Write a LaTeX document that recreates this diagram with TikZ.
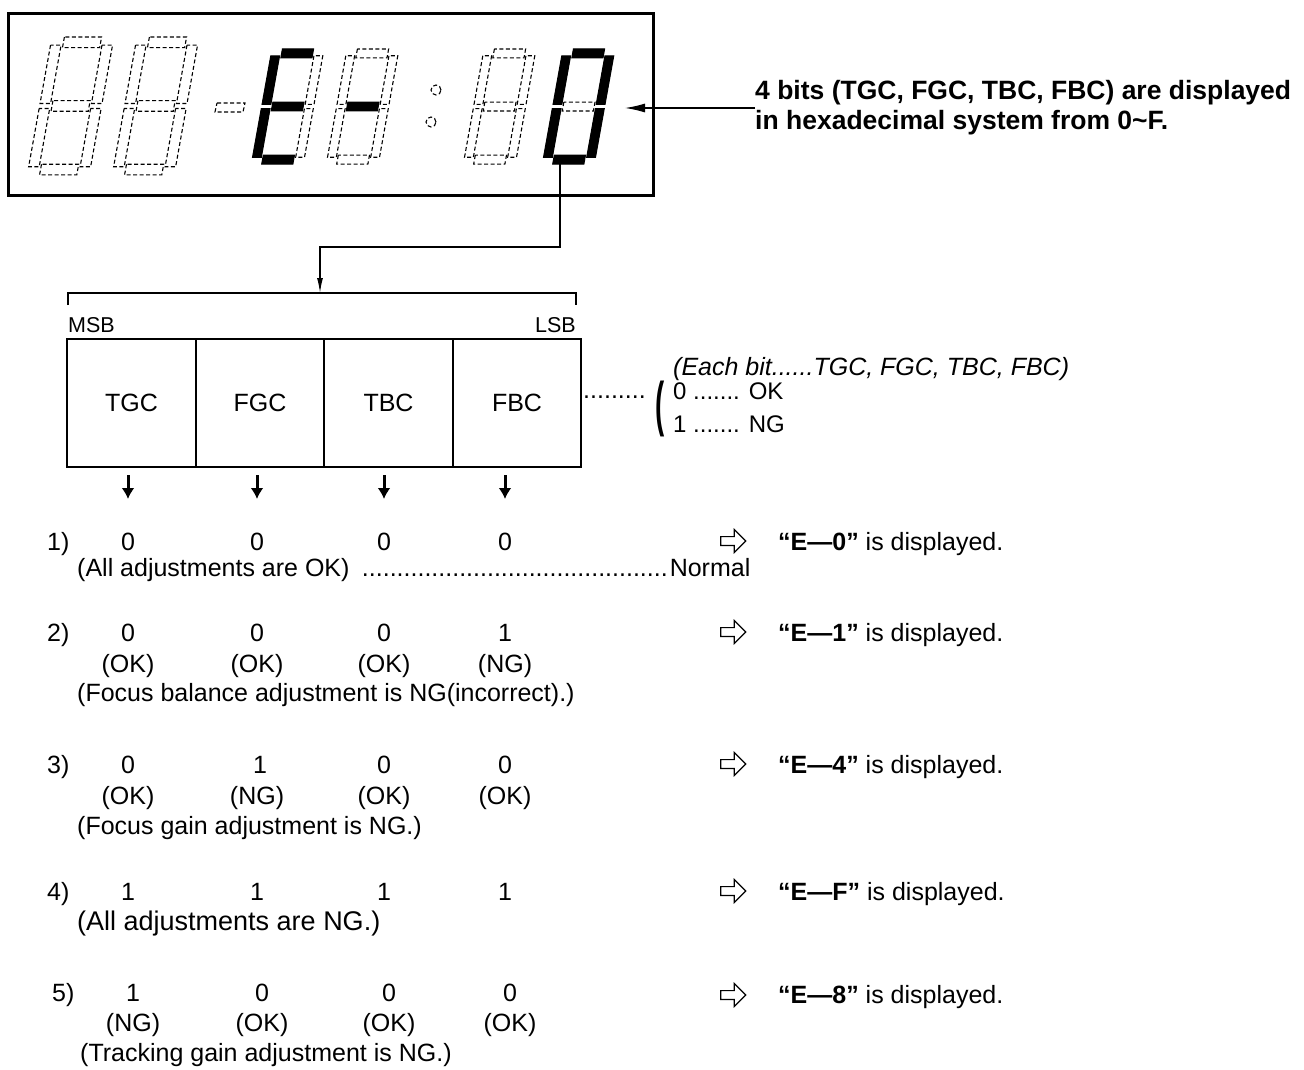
\documentclass[tikz,border=0pt]{standalone}
\usepackage{fontspec}
\setmainfont{Liberation Sans}
\usepackage{graphicx}
\usetikzlibrary{arrows.meta,positioning,shapes.arrows}

\tikzset{
 pics/segdigit/.style={code={
  \foreach \s/\xa/\ya/\xb/\yb in {a/2/0/8/1.7, g/2/10.15/8/11.85, d/2/20.3/8/22,
    f/0/1.3/1.7/10.6, b/8.3/1.3/10/10.6, e/0/11.4/1.7/20.7, c/8.3/11.4/10/20.7}
   \path[seg \s] (\xa,\ya) rectangle (\xb,\yb);
 }}
}

\begin{document}
\begin{tikzpicture}[x=1pt,y=-1pt,>=Latex,font=\fontsize{25}{30}\selectfont,
 unlit/.style={draw,dashed,dash pattern=on 4pt off 2.5pt,line width=1.1pt},
 lit/.style={draw,fill=black,line width=1pt},
 seg a/.style=unlit, seg b/.style=unlit, seg c/.style=unlit, seg d/.style=unlit,
 seg e/.style=unlit, seg f/.style=unlit, seg g/.style=unlit,
 on/.style={seg #1/.style=lit},
 bigdigit/.style={x=6.2pt,y=-6.27pt,xslant=.18},
 smalldigit/.style={x=5.2pt,y=-5.23pt,xslant=.18},
 ln/.style={line width=1.3pt},
 arr/.style={-{Latex[length=15pt,width=6pt]},line width=1.3pt},
 harr/.style={-{Latex[length=20pt,width=9pt]},line width=1.3pt},
 darr/.style={-{Latex[length=11pt,width=13pt]},line width=3pt},
 warr/.style={single arrow,draw,line width=1.2pt,minimum height=25,inner sep=3.8pt,
  single arrow head extend=7pt,single arrow head indent=0pt},
 cell/.style={draw,line width=1.6pt,minimum width=128.5,minimum height=128,inner sep=0pt,outer sep=0pt},
 txt/.style={inner sep=0pt}]
\fill[white] (0,0) rectangle (1304,1070);
\useasboundingbox (0,0) rectangle (1304,1070);

% display
\node[draw,line width=3pt,minimum width=645,minimum height=181,inner sep=0pt] (disp) at (330.5,104.5) {};
\coordinate (d1) at (52,37);
\coordinate (d2) at (137,37);
\coordinate (d3) at (272,49);
\coordinate (d4) at (347,49);
\coordinate (d5) at (484,49);
\coordinate (d6) at (563,49);
\pic[bigdigit] at (d1) {segdigit};
\pic[bigdigit] at (d2) {segdigit};
\draw[unlit] (217,103) -- (245,103) -- (243,112) -- (215,112) -- cycle;
\pic[smalldigit,on/.list={a,d,e,f,g}] at (d3) {segdigit};
\pic[smalldigit,on=g] at (d4) {segdigit};
\node[unlit,circle,minimum size=10,inner sep=0pt] (cola) at (436,90) {};
\node[unlit,circle,minimum size=10,inner sep=0pt] (colb) at (431,122) {};
\pic[smalldigit] at (d5) {segdigit};
\pic[smalldigit,on/.list={a,b,c,d,e,f}] at (d6) {segdigit};

\node[txt,anchor=west,align=left,font=\bfseries\fontsize{26.5}{30}\selectfont] (head) at (755,108)
 {4 bits (TGC, FGC, TBC, FBC) are displayed\\in hexadecimal system from 0\textasciitilde F.};
\coordinate (tip) at (625,108);
\draw[harr] (head.west) -- (tip);

% register
\coordinate (lsd) at (560,160);
\coordinate (bl) at (68,293);
\coordinate (br) at (576,293);
\coordinate (bt) at (320,293);
\draw[ln] (bl) ++(0,12) -- (bl) -- (br) -- ++(0,12);
\draw[arr] (lsd) |- ([yshift=46pt]bt) -- (bt);
\node[txt,anchor=base west,font=\fontsize{21.5}{25}\selectfont] (msb) at (68,332) {MSB};
\node[txt,anchor=base east,font=\fontsize{21.5}{25}\selectfont] (lsb) at (576,332) {LSB};
\node[cell] (tgc) at (131.5,403) {TGC};
\node[cell,right=0pt of tgc] (fgc) {FGC};
\node[cell,right=0pt of fgc] (tbc) {TBC};
\node[cell,right=0pt of tbc] (fbc) {FBC};
\draw[darr] (tgc.south) ++(-3.5,8) -- ++(0,24);
\draw[darr] (fgc.south) ++(-3,8) -- ++(0,24);
\draw[darr] (tbc.south) ++(-4.5,8) -- ++(0,24);
\draw[darr] (fbc.south) ++(-12,8) -- ++(0,24);

\node[txt,anchor=base west] (lead) at (583,398) {\makebox[68pt][l]{\leaders\hbox{.}\hfill}};
\node[txt,font=\bfseries\fontsize{25}{30}\selectfont] (par) at (660,409) {\scalebox{1.1}[2.4]{(}};
\node[txt,anchor=base west,font=\itshape\fontsize{25}{30}\selectfont] (each) at (673,375) {(Each bit......TGC, FGC, TBC, FBC)};
\node[txt,anchor=base west,font=\fontsize{24}{28}\selectfont] (ok) at (673,399) {0 ....... OK};
\node[txt,anchor=base west,font=\fontsize{24}{28}\selectfont] (ng) at (673,432) {1 ....... NG};

% 1)
\node[txt,anchor=base west] (n1) at (47,550) {1)};
\node[txt,anchor=base] (a1) at (128,550) {0};
\node[txt,anchor=base] (a2) at (257,550) {0};
\node[txt,anchor=base] (a3) at (384,550) {0};
\node[txt,anchor=base] (a4) at (505,550) {0};
\node[warr] (ra) at (731,541) {};
\node[txt,anchor=base west] (ea) at (778,550) {\textbf{“E—0”} is displayed.};
\node[txt,anchor=base west] (xa) at (77,576) {\makebox[673pt][l]{(All adjustments are OK) \leaders\hbox{.}\hfill Normal}};

% 2)
\node[txt,anchor=base west] (n2) at (47,641) {2)};
\node[txt,anchor=base] (b1) at (128,641) {0};
\node[txt,anchor=base] (b2) at (257,641) {0};
\node[txt,anchor=base] (b3) at (384,641) {0};
\node[txt,anchor=base] (b4) at (505,641) {1};
\node[txt,anchor=base] (ob1) at (128,672) {(OK)};
\node[txt,anchor=base] (ob2) at (257,672) {(OK)};
\node[txt,anchor=base] (ob3) at (384,672) {(OK)};
\node[txt,anchor=base] (ob4) at (505,672) {(NG)};
\node[warr] (rb) at (731,632) {};
\node[txt,anchor=base west] (eb) at (778,641) {\textbf{“E—1”} is displayed.};
\node[txt,anchor=base west] (xb) at (77,701) {(Focus balance adjustment is NG(incorrect).)};

% 3)
\node[txt,anchor=base west] (n3) at (47,773) {3)};
\node[txt,anchor=base] (c1) at (128,773) {0};
\node[txt,anchor=base] (c2) at (260,773) {1};
\node[txt,anchor=base] (c3) at (384,773) {0};
\node[txt,anchor=base] (c4) at (505,773) {0};
\node[txt,anchor=base] (oc1) at (128,804) {(OK)};
\node[txt,anchor=base] (oc2) at (257,804) {(NG)};
\node[txt,anchor=base] (oc3) at (384,804) {(OK)};
\node[txt,anchor=base] (oc4) at (505,804) {(OK)};
\node[warr] (rc) at (731,764) {};
\node[txt,anchor=base west] (ec) at (778,773) {\textbf{“E—4”} is displayed.};
\node[txt,anchor=base west] (xc) at (77,834) {(Focus gain adjustment is NG.)};

% 4)
\node[txt,anchor=base west] (n4) at (47,900) {4)};
\node[txt,anchor=base] (e1) at (128,900) {1};
\node[txt,anchor=base] (e2) at (257,900) {1};
\node[txt,anchor=base] (e3) at (384,900) {1};
\node[txt,anchor=base] (e4) at (505,900) {1};
\node[warr] (rd) at (731,891) {};
\node[txt,anchor=base west] (ed) at (778,900) {\textbf{“E—F”} is displayed.};
\node[txt,anchor=base west,font=\fontsize{27}{32}\selectfont] (xd) at (77,930) {(All adjustments are NG.)};

% 5)
\node[txt,anchor=base west] (n5) at (52,1001) {5)};
\node[txt,anchor=base] (f1) at (133,1001) {1};
\node[txt,anchor=base] (f2) at (262,1001) {0};
\node[txt,anchor=base] (f3) at (389,1001) {0};
\node[txt,anchor=base] (f4) at (510,1001) {0};
\node[txt,anchor=base] (of1) at (133,1031) {(NG)};
\node[txt,anchor=base] (of2) at (262,1031) {(OK)};
\node[txt,anchor=base] (of3) at (389,1031) {(OK)};
\node[txt,anchor=base] (of4) at (510,1031) {(OK)};
\node[warr] (re) at (731,995) {};
\node[txt,anchor=base west] (ee) at (778,1003) {\textbf{“E—8”} is displayed.};
\node[txt,anchor=base west] (xe) at (80,1061) {(Tracking gain adjustment is NG.)};
\end{tikzpicture}
\end{document}
